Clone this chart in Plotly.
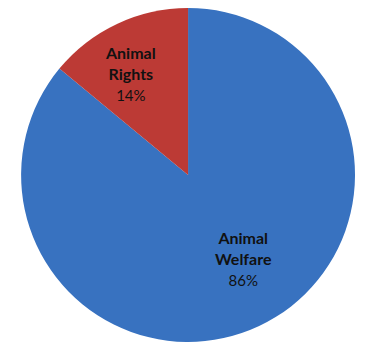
import plotly.graph_objects as go

labels = ["Animal<br>Welfare", "Animal<br>Rights"]
values = [86, 14]
colors = ["#3872c0", "#bc3a35"]
label_pos = [(0.648, 0.262), (0.347, 0.789)]

total = sum(values)

fig = go.Figure(go.Pie(
    labels=labels,
    values=values,
    sort=False,
    direction="clockwise",
    rotation=0,
    marker=dict(colors=colors, line=dict(width=0)),
    textinfo="none",
    domain=dict(x=[0.056, 0.947], y=[0.023, 0.977]),
    showlegend=False,
    hoverinfo="label+percent",
))

for lab, val, (px, py) in zip(labels, values, label_pos):
    pct = round(100 * val / total)
    fig.add_annotation(
        x=px, y=py, xref="paper", yref="paper",
        xanchor="center", yanchor="middle",
        text=f"<b>{lab}</b><br><span style='font-size:15px'>{pct}%</span>",
        showarrow=False,
        font=dict(family="Lato", size=16, color="#111111"),
        align="center",
    )

fig.update_layout(
    width=375, height=350,
    margin=dict(l=0, r=0, t=0, b=0),
    paper_bgcolor="white",
    plot_bgcolor="white",
)

fig.write_html("out.html")
